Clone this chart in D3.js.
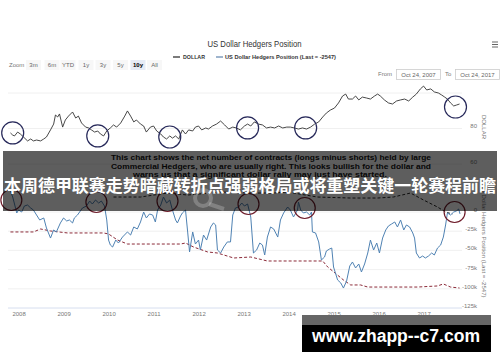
<!DOCTYPE html>
<html><head><meta charset="utf-8">
<script src="https://cdn.jsdelivr.net/npm/d3@7"></script>
<style>html,body{margin:0;padding:0;background:#fff;} svg{display:block;font-family:"Liberation Sans",Arial,sans-serif;}</style>
</head><body><svg id="c" width="500" height="362"></svg>
<script>
// ---- data (decimal year, value) ----
const dollarSeries = [[2007.82,77.5],[2007.87,76.3],[2007.91,75.8],[2007.98,78.0],[2008.04,76.9],[2008.11,75.2],[2008.20,73.0],[2008.27,74.1],[2008.33,73.0],[2008.40,73.5],[2008.49,73.0],[2008.56,74.1],[2008.62,75.2],[2008.71,79.2],[2008.78,82.5],[2008.82,87.6],[2008.87,86.5],[2008.91,88.2],[2008.98,80.8],
[2009.04,84.8],[2009.11,87.0],[2009.20,89.3],[2009.27,85.9],[2009.33,87.0],[2009.40,83.1],[2009.49,80.8],[2009.56,80.3],[2009.62,79.2],[2009.69,78.0],[2009.76,78.6],[2009.82,76.9],[2009.89,75.8],[2009.96,78.6],
[2010.04,80.3],[2010.11,82.0],[2010.18,80.8],[2010.27,83.1],[2010.36,87.0],[2010.42,89.9],[2010.49,87.0],[2010.56,83.7],[2010.62,84.8],[2010.71,82.5],[2010.78,81.4],[2010.84,78.0],[2010.93,80.8],[2011.00,81.4],
[2011.07,78.6],[2011.16,76.9],[2011.22,75.2],[2011.29,74.1],[2011.36,75.8],[2011.42,74.6],[2011.49,75.8],[2011.56,74.1],[2011.64,79.2],[2011.71,76.9],[2011.78,79.2],[2011.87,78.6],[2011.93,80.8],
[2012.00,81.4],[2012.07,79.2],[2012.16,80.3],[2012.22,79.7],[2012.31,81.4],[2012.40,82.5],[2012.49,84.2],[2012.58,82.0],[2012.67,79.7],[2012.76,80.8],[2012.84,80.3],[2012.93,79.2],
[2013.02,81.4],[2013.09,82.5],[2013.16,81.4],[2013.24,83.7],[2013.33,82.5],[2013.42,82.0],[2013.51,80.3],[2013.60,80.8],[2013.69,80.3],[2013.78,81.4],[2013.87,80.3],[2013.96,80.8],
[2014.04,80.8],[2014.13,80.3],[2014.22,79.7],[2014.31,80.3],[2014.40,79.7],[2014.49,80.8],[2014.58,82.5],[2014.67,83.7],[2014.76,86.5],[2014.84,88.7],[2014.93,90.4],[2015.02,91.5],
[2015.11,94.4],[2015.20,98.3],[2015.27,99.4],[2015.33,96.6],[2015.42,96.6],[2015.49,98.3],[2015.56,96.1],[2015.64,97.7],[2015.73,97.2],[2015.82,96.6],[2015.91,98.3],[2015.98,99.4],
[2016.04,98.3],[2016.13,96.1],[2016.22,94.4],[2016.31,93.8],[2016.40,95.5],[2016.49,96.1],[2016.58,96.6],[2016.67,95.5],[2016.76,97.7],[2016.84,99.4],[2016.93,102.3],[2017.00,103.9],
[2017.07,101.7],[2017.16,102.3],[2017.24,100.6],[2017.33,100.0],[2017.40,98.9],[2017.47,97.7],[2017.53,96.6],[2017.60,94.4],[2017.67,92.7],[2017.73,93.2],[2017.80,93.8]];

const hedgerSeries = [[2007.82,27.3],[2007.87,19.5],[2007.91,10.4],[2007.96,-1.3],[2008.00,2.6],[2008.07,0],[2008.13,7.8],[2008.20,9.1],[2008.27,5.2],[2008.33,2.6],[2008.40,-3.9],[2008.47,-10.4],[2008.56,-7.8],[2008.62,-20.8],[2008.71,-33.9],[2008.78,-23.4],[2008.84,-26],[2008.93,-14.3],
[2009.00,-7.8],[2009.07,-11.7],[2009.13,-10.4],[2009.20,-14.3],[2009.24,-7.8],[2009.31,-3.9],[2009.42,5.2],[2009.51,7.8],[2009.58,14.3],[2009.64,10.4],[2009.71,15.6],[2009.78,11.7],[2009.84,14.3],[2009.91,7.8],[2009.96,-10.4],
[2010.00,-36.5],[2010.04,-43],[2010.09,-45.6],[2010.16,-36.5],[2010.22,-40.4],[2010.31,-32.6],[2010.42,-26],[2010.49,-30],[2010.56,-19.5],[2010.64,-22.1],[2010.71,-13],[2010.78,0],[2010.84,-7.8],[2010.91,-2.6],[2010.98,-3.9],
[2011.04,-13],[2011.09,2.6],[2011.16,9.1],[2011.22,19.5],[2011.29,11.7],[2011.36,15.6],[2011.42,2.6],[2011.49,-10.4],[2011.53,-14.3],[2011.60,-5.2],[2011.64,-1.3],[2011.71,2.6],[2011.76,-27.3],[2011.80,-52],[2011.87,-26],[2011.93,-41.7],
[2012.00,-36.5],[2012.04,-49.5],[2012.11,-30],[2012.18,-36.5],[2012.27,-19.5],[2012.33,-14.3],[2012.38,-16.9],[2012.42,-49.5],[2012.49,-53.4],[2012.56,-45.6],[2012.64,-39],[2012.71,-39],[2012.76,-3.9],[2012.82,5.2],[2012.89,6.5],[2012.96,11.7],
[2013.02,7.8],[2013.09,10.4],[2013.16,-6.5],[2013.22,-53.4],[2013.29,-49.5],[2013.36,-40.4],[2013.42,-43],[2013.47,-56],[2013.53,-32.6],[2013.60,-19.5],[2013.67,-22.1],[2013.76,-32.6],[2013.82,-10.4],[2013.89,-1.3],[2013.98,6.5],
[2014.04,2.6],[2014.11,-6.5],[2014.16,-1.3],[2014.20,2.6],[2014.22,13],[2014.27,2.6],[2014.33,-1.3],[2014.40,0],[2014.47,-3.9],[2014.51,0],[2014.53,-26],[2014.60,-27.3],[2014.67,-39],[2014.73,-62.5],[2014.80,-58.6],[2014.84,-50.8],[2014.91,-48.2],[2014.96,-46.9],
[2015.00,-71.6],[2015.09,-88.5],[2015.16,-92.4],[2015.22,-99],[2015.29,-89.8],[2015.36,-70.3],[2015.42,-65.1],[2015.49,-72.9],[2015.56,-67.7],[2015.62,-78.1],[2015.69,-67.7],[2015.76,-53.4],[2015.82,-36.5],[2015.89,-49.5],[2015.96,-40.4],
[2016.02,-53.4],[2016.09,-33.9],[2016.16,-23.4],[2016.22,-18.2],[2016.29,-15.6],[2016.36,-13],[2016.42,-19.5],[2016.49,-10.4],[2016.56,-23.4],[2016.62,-16.9],[2016.69,-19.5],[2016.76,-27.3],[2016.80,-33.9],[2016.84,-53.4],[2016.91,-59.9],[2016.98,-57.3],
[2017.04,-59.9],[2017.11,-57.3],[2017.18,-53.4],[2017.24,-56],[2017.31,-46.9],[2017.38,-43],[2017.44,-32.6],[2017.49,-16.9],[2017.53,-1.3],[2017.60,-3.9],[2017.67,0],[2017.73,1.3],[2017.78,3.9],[2017.81,-2.5]];

const hedgerAverage = [[2007.82,-26],[2008.16,-26],[2008.33,-26],[2008.49,-22.1],[2008.71,-24.7],[2009.09,-27.3],[2009.60,-27.3],[2009.89,-27.3],[2010.00,-28.6],[2010.20,-36.5],[2010.42,-41.7],[2010.93,-41.7],[2011.60,-41.7],[2011.71,-40.4],[2011.89,-45.6],[2012.20,-52],[2012.42,-53.4],[2012.78,-59.9],[2013.16,-58.6],[2013.53,-63.8],[2014.76,-63.8],[2014.87,-71.6],[2015.22,-88.5],[2015.38,-95],[2015.60,-95],[2015.76,-97.7],[2016.87,-97.7],[2017.31,-96.3],[2017.44,-93.7],[2017.60,-97.7],[2017.80,-99]];

const trendLine = [[2010.11,19.5],[2010.71,19.5],[2011.31,24.7],[2011.76,22.1],[2012.49,26],[2013.16,24.7],[2013.67,24.7],[2013.98,26],[2014.64,19.5],[2015.38,18.2],[2015.98,18.2],[2016.33,19.5],[2016.71,24.7],[2017.00,15.6],[2017.31,6.5],[2017.49,0],[2017.64,-2.6]];

const dollarCircles = [[2007.87,77.5],[2009.76,75.8],[2011.36,75.2],[2013.09,80.3],[2014.38,80.3],[2017.71,92.1]];
const hedgerCircles = [[2007.84,15.6],[2009.73,13],[2011.31,14.3],[2013.11,10.4],[2014.36,5.2],[2017.69,0]];

const yearTicks = [2008,2009,2010,2011,2012,2013,2014,2015,2016,2017];
const dollarTicks = [60,80,100];
const dollarTickLabels = ["60","80",""];
const hedgerTicks = [0,-25,-50,-75,-100,-125];
const hedgerTickLabels = ["0","-25k","-50k","-75k","-100k","-125k"];
const rangeButtons = ["3m","6m","YTD","1y","3y","5y","10y","All"];
const noteLines = ["This chart shows the net number of contracts (longs minus shorts) held by large",
  "Commercial Hedgers, who are usually right. This looks bullish for the dollar and",
  "warns us that a significant dollar rally may just have started."];
const headline = "本周德甲联赛走势暗藏转折点强弱格局或将重塑关键一轮赛程前瞻";

// ---- scales ----
const svg = d3.select("#c");
const x = d3.scaleLinear().domain([2007.81, 2017.81]).range([10, 460]);
const yD = d3.scaleLinear().domain([60, 100]).range([164, 93]);
const yH = d3.scaleLinear().domain([-125, 0]).range([308, 212]);

svg.append("rect").attr("width",500).attr("height",362).attr("fill","#fff");

// title + legend
svg.append("text").attr("x",254.5).attr("y",46.5).attr("text-anchor","middle")
  .attr("font-size",9).attr("fill","#333").attr("textLength",94).attr("lengthAdjust","spacingAndGlyphs")
  .text("US Dollar Hedgers Position");
svg.append("line").attr("x1",173).attr("x2",180).attr("y1",57).attr("y2",57).attr("stroke","#333").attr("stroke-width",1.3);
svg.append("text").attr("x",183).attr("y",59).attr("font-size",5.5).attr("font-weight","bold").attr("fill","#333")
  .attr("textLength",22).attr("lengthAdjust","spacingAndGlyphs").text("DOLLAR");
svg.append("line").attr("x1",216).attr("x2",223).attr("y1",57).attr("y2",57).attr("stroke","#6b8db3").attr("stroke-width",1.3);
svg.append("text").attr("x",225).attr("y",59).attr("font-size",5.5).attr("font-weight","bold").attr("fill","#333")
  .attr("textLength",111).attr("lengthAdjust","spacingAndGlyphs").text("US Dollar Hedgers Position (Last = -2547)");

// hamburger
[42,44.5,47].forEach(yy=>svg.append("line").attr("x1",492).attr("x2",498).attr("y1",yy).attr("y2",yy).attr("stroke","#666").attr("stroke-width",1));

// range selector
svg.append("text").attr("x",9).attr("y",67).attr("font-size",6).attr("fill","#777").text("Zoom");
const btnX = [33.5,52,68,86,103,120.5,138,154.5];
rangeButtons.forEach((b,i)=>{
  const sel = b==="10y";
  svg.append("rect").attr("x",btnX[i]-7.5).attr("y",60).attr("width",15).attr("height",10)
    .attr("fill", sel?"#e6ebf5":"#f7f7f7");
  svg.append("text").attr("x",btnX[i]).attr("y",67).attr("text-anchor","middle").attr("font-size",6)
    .attr("font-weight", sel?"bold":"normal").attr("fill", sel?"#000":"#666").text(b);
});
svg.append("text").attr("x",378).attr("y",76).attr("font-size",6).attr("fill","#777").text("From");
svg.append("rect").attr("x",396.5).attr("y",69.5).attr("width",44).attr("height",10).attr("fill","#fff").attr("stroke","#ccc").attr("stroke-width",0.8);
svg.append("text").attr("x",418.5).attr("y",76.5).attr("text-anchor","middle").attr("font-size",6).attr("fill","#666").text("Oct 24, 2007");
svg.append("text").attr("x",445).attr("y",76).attr("font-size",6).attr("fill","#777").text("To");
svg.append("rect").attr("x",455.5).attr("y",69.5).attr("width",44).attr("height",10).attr("fill","#fff").attr("stroke","#ccc").attr("stroke-width",0.8);
svg.append("text").attr("x",477.5).attr("y",76.5).attr("text-anchor","middle").attr("font-size",6).attr("fill","#666").text("Oct 24, 2017");

// gridlines
svg.append("g").selectAll("line").data(dollarTicks).join("line")
  .attr("x1",8).attr("x2",462).attr("y1",d=>yD(d)).attr("y2",d=>yD(d)).attr("stroke","#ececec").attr("stroke-width",0.8);
svg.append("g").selectAll("line").data(hedgerTicks).join("line")
  .attr("x1",8).attr("x2",462).attr("y1",d=>yH(d)).attr("y2",d=>yH(d))
  .attr("stroke",d=>d===-125?"#ccd6eb":"#ececec").attr("stroke-width",0.8);

// y axes
const axD = svg.append("g").attr("transform","translate(477,0)")
  .call(d3.axisRight(yD).tickValues(dollarTicks).tickSize(0).tickPadding(0).tickFormat((d,i)=>dollarTickLabels[i]));
const axH = svg.append("g").attr("transform","translate(477,0)")
  .call(d3.axisRight(yH).tickValues(hedgerTicks).tickSize(0).tickPadding(0).tickFormat((d,i)=>hedgerTickLabels[i]));
[axD,axH].forEach(a=>{
  a.select(".domain").remove();
  a.selectAll("text").attr("text-anchor","end").attr("y",-2.5).attr("font-size",6).attr("fill","#777").attr("font-family","Liberation Sans, Arial, sans-serif");
});
// x axis
const axX = svg.append("g").attr("transform","translate(0,308)")
  .call(d3.axisBottom(x).tickValues(yearTicks).tickSize(0).tickPadding(4).tickFormat(d3.format("d")));
axX.select(".domain").remove();
axX.selectAll("text").attr("font-size",6).attr("fill","#777").attr("font-family","Liberation Sans, Arial, sans-serif");

// axis titles
svg.append("text").attr("transform","translate(482,127) rotate(90)").attr("text-anchor","middle")
  .attr("font-size",6).attr("fill","#777").text("DOLLAR");
svg.append("text").attr("transform","translate(482,241) rotate(90)").attr("text-anchor","middle")
  .attr("font-size",6).attr("fill","#777").attr("textLength",113).attr("lengthAdjust","spacingAndGlyphs")
  .text("US Dollar Hedgers Position (Last = -2547)");

// lines
const lineD = d3.line().x(d=>x(d[0])).y(d=>yD(d[1]));
const lineH = d3.line().x(d=>x(d[0])).y(d=>yH(d[1]));
svg.append("path").datum(hedgerAverage).attr("d",lineH).attr("fill","none").attr("stroke","#8b2a38").attr("stroke-width",1).attr("stroke-dasharray","3,2");
svg.append("path").datum(trendLine).attr("d",lineH).attr("fill","none").attr("stroke","#2a2a2a").attr("stroke-width",1).attr("stroke-dasharray","3,2");
svg.append("path").datum(hedgerSeries).attr("d",lineH).attr("fill","none").attr("stroke","#4f82b3").attr("stroke-width",1).attr("stroke-linejoin","round");
svg.append("path").datum(dollarSeries).attr("d",lineD).attr("fill","none").attr("stroke","#333").attr("stroke-width",0.9).attr("stroke-linejoin","round");

// annotation circles
svg.append("g").selectAll("circle").data(dollarCircles).join("circle")
  .attr("cx",d=>x(d[0])).attr("cy",d=>yD(d[1])).attr("r",11).attr("fill","none").attr("stroke","#27295a").attr("stroke-width",1.2);
svg.append("g").selectAll("circle").data(hedgerCircles).join("circle")
  .attr("cx",d=>x(d[0])).attr("cy",d=>yH(d[1])).attr("r",10.5).attr("fill","none").attr("stroke","#6e1c2a").attr("stroke-width",1.2);

// annotation note
const noteX = [271,271,260];
noteLines.forEach((t,i)=>{
  svg.append("text").attr("x",noteX[i]).attr("y",160+i*8.5).attr("text-anchor","middle")
    .attr("font-size",7.5).attr("font-weight","bold").attr("fill","#111")
    .attr("textLength", i<2?320:254).attr("lengthAdjust","spacingAndGlyphs").text(t);
});

// banner overlay
svg.append("rect").attr("x",3).attr("y",151).attr("width",494).attr("height",60).attr("fill","rgba(0,0,0,0.63)");
// faint logo
const logo = svg.append("g").attr("stroke","rgba(255,255,255,0.22)").attr("fill","none");
logo.append("circle").attr("cx",203).attr("cy",198).attr("r",8).attr("stroke-width",4);
logo.append("line").attr("x1",209).attr("y1",204).attr("x2",224).attr("y2",209).attr("stroke-width",4);

svg.append("text").attr("x",250).attr("y",192).attr("text-anchor","middle")
  .attr("font-family","'Noto Sans CJK SC', sans-serif").attr("font-weight","bold").attr("font-size",17)
  .attr("fill","#fff").attr("textLength",492).attr("lengthAdjust","spacingAndGlyphs").text(headline);

// site watermark
svg.append("rect").attr("x",302).attr("y",315).attr("width",189).attr("height",10).attr("fill","#666");
svg.append("rect").attr("x",302).attr("y",325).attr("width",189).attr("height",27).attr("fill","#000");
svg.append("text").attr("x",396).attr("y",342).attr("text-anchor","middle").attr("font-size",17.5).attr("font-weight","bold")
  .attr("fill","#fff").attr("textLength",168).attr("lengthAdjust","spacingAndGlyphs").text("www.zhapp--c7.com");
</script></body></html>
